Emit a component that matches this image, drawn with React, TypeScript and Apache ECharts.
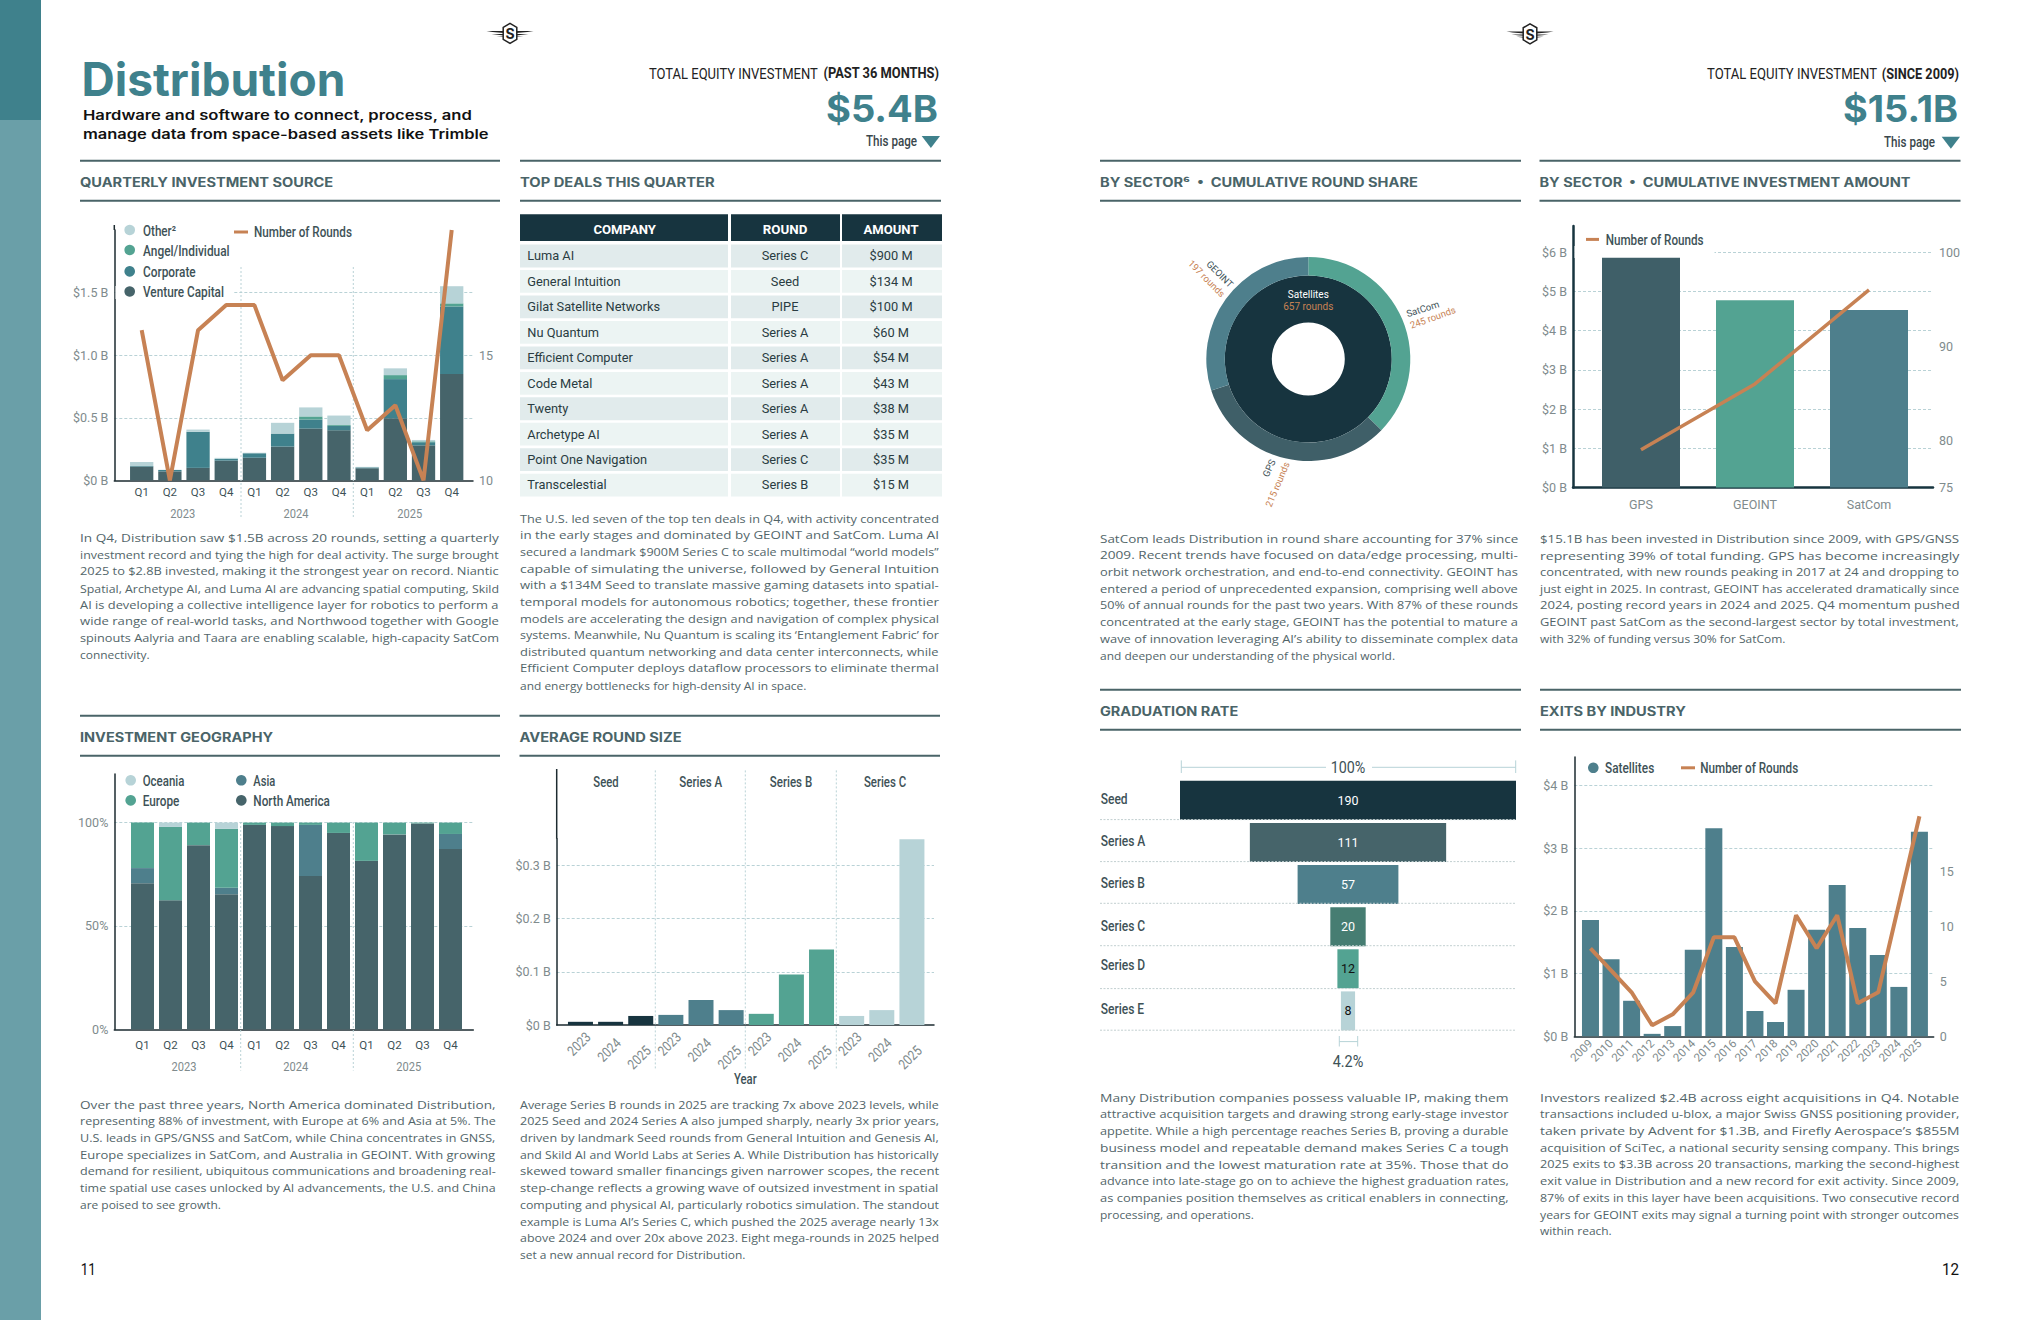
import React, { useEffect, useRef } from "react";
import * as echarts from "echarts";

// ---------- DATA ----------
const quarters = ["Q1", "Q2", "Q3", "Q4", "Q1", "Q2", "Q3", "Q4", "Q1", "Q2", "Q3", "Q4"];
const sourceVC = [0.11, 0.072, 0.1, 0.158, 0.18, 0.27, 0.414, 0.4, 0.097, 0.496, 0.28, 0.849];
const sourceCorp = [0.005, 0.011, 0.288, 0.014, 0.036, 0.104, 0.072, 0.035, 0.007, 0.313, 0.025, 0.54];
const sourceAngel = [0, 0, 0, 0, 0, 0, 0.025, 0.007, 0, 0.032, 0.007, 0.025];
const sourceOther = [0.032, 0.002, 0.018, 0.008, 0.004, 0.086, 0.072, 0.076, 0.004, 0.054, 0.011, 0.137];
const sourceRounds = [16, 10, 16, 17, 17, 14, 15, 15, 12, 13, 10, 20];

const geoNA = [70.7, 62.5, 89.1, 65.4, 98.9, 98.3, 74.2, 95, 81.5, 94.3, 99.6, 87.2];
const geoAsia = [7.3, 0, 0, 3.1, 0, 0, 24.7, 0, 0, 0, 0, 7.3];
const geoEurope = [22, 35.4, 10.9, 28.5, 1.1, 1.7, 1.1, 5, 18.5, 5.7, 0.4, 5.5];
const geoOceania = [0, 2.1, 0, 3, 0, 0, 0, 0, 0, 0, 0, 0];

const roundYears = ["2023", "2024", "2025", "2023", "2024", "2025", "2023", "2024", "2025", "2023", "2024", "2025"];
const roundSizes = [0.006, 0.006, 0.017, 0.019, 0.047, 0.028, 0.021, 0.095, 0.142, 0.017, 0.028, 0.349];
const roundStages = ["Seed", "Series A", "Series B", "Series C"];

const ringInnerName = "Satellites";
const ringInnerValue = 657;
const ringSectors = ["SatCom", "GPS", "GEOINT"];
const ringValues = [245, 215, 197];

const sectorNames = ["GPS", "GEOINT", "SatCom"];
const sectorAmounts = [5.86, 4.78, 4.53];
const sectorRounds = [79, 86, 96];

const gradStages = ["Seed", "Series A", "Series B", "Series C", "Series D", "Series E"];
const gradValues = [190, 111, 57, 20, 12, 8];

const exitYears = ["2009", "2010", "2011", "2012", "2013", "2014", "2015", "2016", "2017", "2018", "2019", "2020", "2021", "2022", "2023", "2024", "2025"];
const exitAmounts = [1.854, 1.229, 0.566, 0.039, 0.163, 1.379, 3.317, 1.424, 0.403, 0.228, 0.741, 1.698, 2.413, 1.724, 1.294, 0.787, 3.259];
const exitRounds = [8, 6, 4, 1, 2, 4, 9, 9, 5, 3, 11, 8, 11, 3, 4, 12, 20];

const dealCompanies = ["Luma AI", "General Intuition", "Gilat Satellite Networks", "Nu Quantum", "Efficient Computer", "Code Metal", "Twenty", "Archetype AI", "Point One Navigation", "Transcelestial"];
const dealRounds = ["Series C", "Seed", "PIPE", "Series A", "Series A", "Series A", "Series A", "Series A", "Series C", "Series B"];
const dealAmounts = ["$900 M", "$134 M", "$100 M", "$60 M", "$54 M", "$43 M", "$38 M", "$35 M", "$35 M", "$15 M"];

const textQuarterly = [
  "In Q4, Distribution saw $1.5B across 20 rounds, setting a quarterly",
  "investment record and tying the high for deal activity. The surge brought",
  "2025 to $2.8B invested, making it the strongest year on record. Niantic",
  "Spatial, Archetype AI, and Luma AI are advancing spatial computing, Skild",
  "AI is developing a collective intelligence layer for robotics to perform a",
  "wide range of real-world tasks, and Northwood together with Google",
  "spinouts Aalyria and Taara are enabling scalable, high-capacity SatCom",
  "connectivity.",
];
const textDeals = [
  "The U.S. led seven of the top ten deals in Q4, with activity concentrated",
  "in the early stages and dominated by GEOINT and SatCom. Luma AI",
  "secured a landmark $900M Series C to scale multimodal “world models”",
  "capable of simulating the universe, followed by General Intuition",
  "with a $134M Seed to translate massive gaming datasets into spatial-",
  "temporal models for autonomous robotics; together, these frontier",
  "models are accelerating the design and navigation of complex physical",
  "systems. Meanwhile, Nu Quantum is scaling its ‘Entanglement Fabric’ for",
  "distributed quantum networking and data center interconnects, while",
  "Efficient Computer deploys dataflow processors to eliminate thermal",
  "and energy bottlenecks for high-density AI in space.",
];
const textGeo = [
  "Over the past three years, North America dominated Distribution,",
  "representing 88% of investment, with Europe at 6% and Asia at 5%. The",
  "U.S. leads in GPS/GNSS and SatCom, while China concentrates in GNSS,",
  "Europe specializes in SatCom, and Australia in GEOINT. With growing",
  "demand for resilient, ubiquitous communications and broadening real-",
  "time spatial use cases unlocked by AI advancements, the U.S. and China",
  "are poised to see growth.",
];
const textRoundSize = [
  "Average Series B rounds in 2025 are tracking 7x above 2023 levels, while",
  "2025 Seed and 2024 Series A also jumped sharply, nearly 3x prior years,",
  "driven by landmark Seed rounds from General Intuition and Genesis AI,",
  "and Skild AI and World Labs at Series A. While Distribution has historically",
  "skewed toward smaller financings given narrower scopes, the recent",
  "step-change reflects a growing wave of outsized investment in spatial",
  "computing and physical AI, particularly robotics simulation. The standout",
  "example is Luma AI’s Series C, which pushed the 2025 average nearly 13x",
  "above 2024 and over 20x above 2023. Eight mega-rounds in 2025 helped",
  "set a new annual record for Distribution.",
];
const textShare = [
  "SatCom leads Distribution in round share accounting for 37% since",
  "2009. Recent trends have focused on data/edge processing, multi-",
  "orbit network orchestration, and end-to-end connectivity. GEOINT has",
  "entered a period of unprecedented expansion, comprising well above",
  "50% of annual rounds for the past two years. With 87% of these rounds",
  "concentrated at the early stage, GEOINT has the potential to mature a",
  "wave of innovation leveraging AI’s ability to disseminate complex data",
  "and deepen our understanding of the physical world.",
];
const textSector = [
  "$15.1B has been invested in Distribution since 2009, with GPS/GNSS",
  "representing 39% of total funding. GPS has become increasingly",
  "concentrated, with new rounds peaking in 2017 at 24 and dropping to",
  "just eight in 2025. In contrast, GEOINT has accelerated dramatically since",
  "2024, posting record years in 2024 and 2025. Q4 momentum pushed",
  "GEOINT past SatCom as the second-largest sector by total investment,",
  "with 32% of funding versus 30% for SatCom.",
];
const textGrad = [
  "Many Distribution companies possess valuable IP, making them",
  "attractive acquisition targets and drawing strong early-stage investor",
  "appetite. While a high percentage reaches Series B, proving a durable",
  "business model and repeatable demand makes Series C a tough",
  "transition and the lowest maturation rate at 35%. Those that do",
  "advance into late-stage go on to achieve the highest graduation rates,",
  "as companies position themselves as critical enablers in connecting,",
  "processing, and operations.",
];
const textExits = [
  "Investors realized $2.4B across eight acquisitions in Q4. Notable",
  "transactions included u-blox, a major Swiss GNSS positioning provider,",
  "taken private by Advent for $1.3B, and Firefly Aerospace’s $855M",
  "acquisition of SciTec, a national security sensing company. This brings",
  "2025 exits to $3.3B across 20 transactions, marking the second-highest",
  "exit value in Distribution and a new record for exit activity. Since 2009,",
  "87% of exits in this layer have been acquisitions. Two consecutive record",
  "years for GEOINT exits may signal a turning point with stronger outcomes",
  "within reach.",
];

// ---------- STYLE ----------
const NAVY = "#17343f";
const SLATE = "#46646a";
const TEAL = "#3f818c";
const STEEL = "#4e7f8c";
const GREEN = "#53a392";
const PALE = "#b7d3d7";
const ORANGE = "#c78254";
const GRID = "#b9d2d6";
const INK = "#3e5257";
const MUTED = "#808b8d";
const RULE = "#4a6468";
const AXIS = "#1d2b30";
const ROBOTO = "Roboto";
const BODY = "Open Sans";
const HEAD = "Inter";

const ctx = document.createElement("canvas").getContext("2d") as CanvasRenderingContext2D;
const measure = (t: string, size: number, weight: number | string, family: string) => {
  ctx.font = `${weight} ${size}px "${family}"`;
  return ctx.measureText(t).width;
};
const probe = "Series A 2023 Q1";
const hasNarrow = measure(probe, 40, 400, "Liberation Sans Narrow") !== measure(probe, 40, 400, "NoSuchFontAtAll");
const NARROW = hasNarrow ? "Liberation Sans Narrow" : ROBOTO;
const AX_SIZE = hasNarrow ? 13 : 11.5;
const VAL_SIZE = hasNarrow ? 14 : 12.5;

function buildOption() {
  const g: any[] = [];
  const grid: any[] = [];
  const xAxis: any[] = [];
  const yAxis: any[] = [];
  const series: any[] = [];

  const T = (text: string, x: number, y: number, o: any = {}) => {
    const size = o.size ?? 12;
    const weight = o.weight ?? 400;
    const family = o.family ?? ROBOTO;
    const scaleX = o.width ? o.width / measure(text, size, weight, family) : 1;
    const align = o.align ?? "left";
    g.push({
      type: "text", x, y, scaleX, rotation: o.rotation ?? 0, z: o.z ?? 10, silent: true,
      style: {
        text, fill: o.color ?? INK, fontSize: size, fontWeight: weight, fontFamily: family,
        align, textAlign: align, verticalAlign: "middle", textVerticalAlign: "middle",
      },
    });
  };
  const L = (x1: number, y1: number, x2: number, y2: number, o: any = {}) =>
    g.push({
      type: "line", z: o.z ?? 1, silent: true, shape: { x1, y1, x2, y2 },
      style: { stroke: o.color ?? GRID, lineWidth: o.width ?? 1, lineDash: o.dash ?? null },
    });
  const R = (x: number, y: number, width: number, height: number, fill: string, z = 1) =>
    g.push({ type: "rect", z, silent: true, shape: { x, y, width, height }, style: { fill } });
  const dot = (cx: number, cy: number, fill: string) =>
    g.push({ type: "circle", z: 10, silent: true, shape: { cx, cy, r: 5.3 }, style: { fill } });
  const dotted = (x: number, y1: number, y2: number) => L(x, y1, x, y2, { dash: [2, 2] });

  const heading = (text: string, x1: number, x2: number, yTop: number, width: number) => {
    L(x1, yTop, x2, yTop, { color: RULE, width: 2 });
    L(x1, yTop + 40, x2, yTop + 40, { color: RULE, width: 2 });
    T(text, x1, yTop + 21.2, { size: 12.5, weight: 700, family: HEAD, color: RULE, width });
  };
  const para = (lines: string[], x: number, right: number, y0: number) =>
    lines.forEach((s, i) =>
      T(s, x, y0 + i * 16.62, {
        size: 11.5, family: BODY, color: "#526569",
        width: i < lines.length - 1 ? right - x : measure(s, 11.5, 400, BODY) * 1.04,
      }),
    );
  const legendText = (text: string, x: number, y: number, width: number) =>
    T(text, x, y + 0.8, { size: 14, weight: 500, width });
  const legendLine = (x1: number, x2: number, y: number) =>
    L(x1, y, x2, y, { color: ORANGE, width: 3, z: 10 });

  const labelStyle = { color: MUTED, fontSize: VAL_SIZE, fontFamily: NARROW };

  const frame = (o: any) => {
    const height = o.bottom - o.top;
    const line = { color: o.axisColor ?? AXIS, width: o.axisWidth ?? 1.5 };
    const bg = grid.push({ left: o.left, top: o.top, width: o.right - o.left, height }) - 1;
    xAxis.push({
      gridIndex: bg, type: "value", min: 0, max: 1,
      axisLine: { show: true, onZero: false, lineStyle: line },
      axisTick: { show: false }, axisLabel: { show: false }, splitLine: { show: false },
    });
    yAxis.push({
      gridIndex: bg, type: "value", min: 0, max: o.yMax, interval: o.yInterval,
      axisLine: { show: true, onZero: false, lineStyle: line }, axisTick: { show: false },
      axisLabel: { ...labelStyle, margin: 6, formatter: o.yFormat, showMaxLabel: false },
      splitLine: {
        show: true, showMaxLine: false, showMinLine: false,
        lineStyle: { color: GRID, type: [3, 2], width: 1 },
      },
    });
    if (o.rMax != null) {
      yAxis.push({
        gridIndex: bg, type: "value", position: "right", min: o.rMin, max: o.rMax, interval: o.rInterval,
        axisLine: { show: false }, axisTick: { show: false }, splitLine: { show: false },
        axisLabel: { ...labelStyle, margin: 6, formatter: o.rFormat },
      });
    }
    const fg = grid.push({ left: o.catLeft, top: o.top, width: o.catRight - o.catLeft, height }) - 1;
    const xi = xAxis.push({
      gridIndex: fg, type: "category", data: o.cats,
      axisLine: { show: false }, axisTick: { show: false }, splitLine: { show: false },
      axisLabel: { interval: 0, fontFamily: NARROW, fontSize: AX_SIZE, color: o.catColor ?? INK, margin: 6, ...(o.catLabel ?? {}) },
    }) - 1;
    const yi = yAxis.push({ gridIndex: fg, type: "value", min: 0, max: o.yMax, show: false }) - 1;
    const ri = o.rMax != null
      ? yAxis.push({ gridIndex: fg, type: "value", min: o.rMin, max: o.rMax, show: false }) - 1
      : -1;
    return { xi, yi, ri };
  };
  const bar = (a: any, name: string, data: any[], color: string, barWidth: number, stack?: string) =>
    series.push({
      type: "bar", name, data, xAxisIndex: a.xi, yAxisIndex: a.yi, stack, barWidth, silent: true, z: 2,
      itemStyle: { color },
    });
  const trend = (a: any, data: number[], width = 4) =>
    series.push({
      type: "line", name: "Number of Rounds", data, xAxisIndex: a.xi, yAxisIndex: a.ri, symbol: "none",
      silent: true, clip: false, z: 4, lineStyle: { color: ORANGE, width },
    });
  const yearLabels = (pairs: number[][], y: number) =>
    pairs.forEach(([year, x]) =>
      T(String(year), x, y, { size: 13.5, color: MUTED, align: "center", width: 25 }));

  // ---------- PAGE FURNITURE ----------
  R(0, 0, 41, 1320, "#6a9fa8", 0);
  R(0, 0, 41, 120, TEAL, 0);

  const logo = (cx: number, cy: number) => {
    const hex = [[0, -10], [6.8, -6], [6.8, 6], [0, 10], [-6.8, 6], [-6.8, -6]].map(([a, b]) => [cx + a, cy + b]);
    [-1, 1].forEach((s) => {
      const wing = (tip: number, y1: number, y2: number, y3: number) =>
        g.push({
          type: "polygon", z: 10, silent: true,
          shape: { points: [[cx + s * tip, y1], [cx + s * 6, y1], [cx + s * 6, y2], [cx + s * (tip - 6), y3]] },
          style: { fill: "#222" },
        });
      wing(23.5, cy - 2.4, cy - 0.4, cy - 1.4);
      wing(18.5, cy + 0.6, cy + 2, cy + 1.4);
      wing(13.5, cy + 3, cy + 4.2, cy + 3.6);
    });
    g.push({ type: "polygon", z: 11, silent: true, shape: { points: hex }, style: { fill: "#fff", stroke: "#222", lineWidth: 1.5 } });
    T("S", cx, cy + 0.5, { size: 14, weight: 700, family: HEAD, color: "#222", align: "center", z: 12 });
  };
  logo(510, 33.4);
  logo(1530, 33.8);

  T("Distribution", 81.5, 79, { size: 46, weight: 700, family: HEAD, color: TEAL, width: 264 });
  T("Hardware and software to connect, process, and", 83, 115.8, { size: 13, weight: 600, family: HEAD, color: "#111", width: 389.7 });
  T("manage data from space-based assets like Trimble", 83, 134.8, { size: 13, weight: 600, family: HEAD, color: "#111", width: 406 });

  const topRight = (plain: string, bold: string, amount: string, xs: number[], y: number, yLabel: number) => {
    T(plain, xs[0], y, { size: 14, color: "#222", width: xs[1] - xs[0] });
    T(bold, xs[3], y, { size: 14, weight: 700, color: "#222", align: "right", width: xs[3] - xs[2] });
    T(amount, xs[3] - 1, y + 35, { size: 37, weight: 700, family: HEAD, color: TEAL, align: "right", width: xs[3] - xs[4] - 1 });
    T("This page", xs[5], yLabel, { size: 14, weight: 500, align: "right", color: "#3a474b", width: xs[5] - xs[6] });
    g.push({
      type: "polygon", z: 10, silent: true,
      shape: { points: [[xs[7], yLabel - 5], [xs[7] + 18.3, yLabel - 5], [xs[7] + 9.2, yLabel + 7]] },
      style: { fill: TEAL },
    });
  };
  topRight("TOTAL EQUITY INVESTMENT", "(PAST 36 MONTHS)", "$5.4B", [649, 818, 823, 939, 826, 917, 866, 921.7], 73.8, 141);
  topRight("TOTAL EQUITY INVESTMENT", "(SINCE 2009)", "$15.1B", [1707, 1877, 1881.7, 1959, 1843, 1935, 1884, 1941.7], 73.8, 141.8);

  T("11", 80.7, 1269, { size: 17, color: "#111", width: 15 });
  T("12", 1959, 1269, { size: 17, color: "#111", align: "right", width: 17 });

  // ---------- HEADINGS + PARAGRAPHS ----------
  heading("QUARTERLY INVESTMENT SOURCE", 80, 500, 160.8, 253.3);
  heading("TOP DEALS THIS QUARTER", 520, 941, 160.8, 194.7);
  heading("BY SECTOR⁶  •  CUMULATIVE ROUND SHARE", 1100, 1521, 160.8, 318.3);
  heading("BY SECTOR  •  CUMULATIVE INVESTMENT AMOUNT", 1539.5, 1960.5, 160.8, 371);
  heading("INVESTMENT GEOGRAPHY", 80, 500, 715.8, 193.3);
  heading("AVERAGE ROUND SIZE", 519.5, 940, 715.8, 162.3);
  heading("GRADUATION RATE", 1100, 1521, 689.8, 138.3);
  heading("EXITS BY INDUSTRY", 1540, 1961, 689.8, 146);

  para(textQuarterly, 80, 499.3, 538);
  para(textDeals, 520, 939.3, 518.6);
  para(textGeo, 80, 496, 1104.5);
  para(textRoundSize, 520, 939.3, 1104.5);
  para(textShare, 1100, 1518.3, 538.6);
  para(textSector, 1540, 1959.7, 538.6);
  para(textGrad, 1100, 1509, 1097.6);
  para(textExits, 1540, 1959.7, 1097.6);

  // ---------- QUARTERLY INVESTMENT SOURCE ----------
  const a1 = frame({
    left: 114.3, right: 473, top: 230, bottom: 480.4, yMax: 2, yInterval: 0.5,
    yFormat: (v: number) => (v === 0 ? "$0 B" : `$${v.toFixed(1)} B`),
    rMin: 10, rMax: 20, rInterval: 5, rFormat: (v: number) => (v < 20 ? String(v) : ""),
    cats: quarters, catLeft: 127.6, catRight: 465.8,
  });
  L(114.3, 225, 114.3, 230, { color: AXIS, width: 1.5, z: 3 });
  bar(a1, "Venture Capital", sourceVC, SLATE, 23.3, "s");
  bar(a1, "Corporate", sourceCorp, TEAL, 23.3, "s");
  bar(a1, "Angel/Individual", sourceAngel, GREEN, 23.3, "s");
  bar(a1, "Other", sourceOther, PALE, 23.3, "s");
  trend(a1, sourceRounds);
  R(115.5, 286, 118, 13, "#fff");
  dotted(241, 267, 518);
  dotted(353.3, 267, 518);
  yearLabels([[2023, 182.7], [2024, 296], [2025, 409.7]], 513.9);
  dot(129.7, 230, PALE); legendText("Other²", 143, 230, 33);
  dot(129.7, 250, GREEN); legendText("Angel/Individual", 143, 250, 86.7);
  dot(129.7, 271.4, TEAL); legendText("Corporate", 143, 271.4, 52.7);
  dot(129.7, 291.5, SLATE); legendText("Venture Capital", 143, 291.5, 81);
  legendLine(234, 248, 232); legendText("Number of Rounds", 254, 231.5, 98);

  // ---------- TOP DEALS TABLE ----------
  const headerCols = [[520, 208, 624.7, 62.7, "COMPANY"], [731, 109, 785, 44.7, "ROUND"], [842, 100, 891, 55, "AMOUNT"]] as any[];
  headerCols.forEach(([x, w, cx, tw, name]) => {
    R(x, 214.2, w, 26.8, NAVY);
    T(name, cx, 229.6, { size: 12.5, weight: 700, color: "#fff", align: "center", width: tw });
  });
  dealCompanies.forEach((name, i) => {
    const y = 244.6 + i * 25.46;
    const fill = i % 2 ? "#ecf4f3" : "#e1ebec";
    R(520, y, 208, 22.8, fill); R(731, y, 109, 22.8, fill); R(842, y, 100, 22.8, fill);
    T(name, 527.3, y + 11.2, { size: 12.8, color: "#2a3c42" });
    T(dealRounds[i], 785, y + 11.2, { size: 12.8, color: "#2a3c42", align: "center" });
    T(dealAmounts[i], 891, y + 11.2, { size: 12.8, color: "#2a3c42", align: "center" });
  });

  // ---------- INVESTMENT GEOGRAPHY ----------
  const a3 = frame({
    left: 114.3, right: 473.3, top: 774, bottom: 1029.4, yMax: 123.5, yInterval: 50,
    yFormat: (v: number) => `${v}%`, cats: quarters, catLeft: 128.5, catRight: 464.5,
    catLabel: { margin: 10 },
  });
  bar(a3, "North America", geoNA, SLATE, 23, "g");
  bar(a3, "Asia", geoAsia, STEEL, 23, "g");
  bar(a3, "Europe", geoEurope, GREEN, 23, "g");
  bar(a3, "Oceania", geoOceania, PALE, 23, "g");
  dotted(240.7, 822, 1070.5);
  dotted(353.3, 822, 1070.5);
  yearLabels([[2023, 184], [2024, 295.7], [2025, 408.7]], 1066.6);
  dot(130.7, 780.3, PALE); legendText("Oceania", 142.7, 780.3, 41.7);
  dot(130.7, 800.4, GREEN); legendText("Europe", 142.7, 800.4, 36.7);
  dot(241.3, 780.3, STEEL); legendText("Asia", 253.3, 780.3, 22);
  dot(241.3, 800.4, SLATE); legendText("North America", 253.3, 800.4, 76.7);

  // ---------- AVERAGE ROUND SIZE ----------
  const stageColors = [NAVY, STEEL, GREEN, PALE];
  const a4 = frame({
    left: 556.7, right: 934, top: 838.8, bottom: 1025, yMax: 0.35, yInterval: 0.1,
    yFormat: (v: number) => (v === 0 ? "$0 B" : `$${v.toFixed(1)} B`),
    cats: roundYears, catLeft: 565.4, catRight: 927, catColor: MUTED,
    catLabel: { show: false },
  });
  L(556.7, 769, 556.7, 838.8, { color: AXIS, width: 1.5, z: 3 });
  bar(a4, "Average round size",
    roundSizes.map((value, i) => ({ value, itemStyle: { color: stageColors[Math.floor(i / 3)] } })), NAVY, 25);
  [655.3, 745.3, 836.3].forEach((x) => dotted(x, 770.4, 1069.7));
  const stageWidths = [25.3, 42.7, 42.3, 42.3];
  [606, 700.7, 791, 885].forEach((x, i) =>
    T(roundStages[i], x, 782, { size: 14, weight: 500, align: "center", width: stageWidths[i] }));
  const yearLabelOffsets = [1044, 1050, 1057.5];
  roundYears.forEach((year, i) =>
    T(year, 579 + i * 30.1, yearLabelOffsets[i % 3], { size: 14, color: MUTED, align: "center", width: 26.5, rotation: Math.PI / 4 }));
  T("Year", 745.3, 1079.4, { size: 14, weight: 500, align: "center", width: 22.7 });

  // ---------- CUMULATIVE ROUND SHARE ----------
  const ringCenter = [1308.3, 359];
  const ringColors = [GREEN, "#3f5f68", STEEL];
  series.push({
    type: "pie", name: ringInnerName, center: ringCenter, radius: [36.5, 83.5], silent: true, z: 2,
    startAngle: 90, label: { show: false }, labelLine: { show: false },
    data: [{ name: ringInnerName, value: ringInnerValue, itemStyle: { color: NAVY } }],
  });
  series.push({
    type: "pie", name: "Sector", center: ringCenter, radius: [83.5, 102], silent: true, z: 2,
    startAngle: 90, clockwise: true, label: { show: false }, labelLine: { show: false },
    data: ringSectors.map((name, i) => ({ name, value: ringValues[i], itemStyle: { color: ringColors[i] } })),
  });
  T(ringInnerName, 1308.3, 294.4, { size: 10, color: "#fff", align: "center" });
  T(`${ringInnerValue} rounds`, 1308.3, 306.6, { size: 10, color: ORANGE, align: "center" });
  const deg = Math.PI / 180;
  const ringLabels: any[] = [
    [0, 1422.7, 308.8, 18, 1432.7, 317.4, 20],
    [1, 1269, 468, 65, 1277.3, 484.4, 67],
    [2, 1220, 274, -45, 1206.7, 278.4, -45],
  ];
  ringLabels.forEach(([i, x1, y1, r1, x2, y2, r2]) => {
    T(ringSectors[i], x1, y1, { size: 9.5, align: "center", rotation: r1 * deg });
    T(`${ringValues[i]} rounds`, x2, y2, { size: 9.5, color: ORANGE, align: "center", rotation: r2 * deg });
  });

  // ---------- CUMULATIVE INVESTMENT AMOUNT ----------
  const a6 = frame({
    left: 1573, right: 1933, top: 226, bottom: 487.4, yMax: 6.673, yInterval: 1,
    yFormat: (v: number) => `$${v} B`,
    rMin: 75, rMax: 102.8, rInterval: 5,
    rFormat: (v: number) => ([75, 80, 90, 100].includes(v) ? String(v) : ""),
    cats: sectorNames, catLeft: 1584, catRight: 1926, catColor: MUTED,
    axisColor: NAVY, axisWidth: 2.5, catLabel: { margin: 11, fontSize: AX_SIZE + 1 },
  });
  series.push({
    type: "bar", name: "Amount", xAxisIndex: a6.xi, yAxisIndex: a6.yi, barWidth: 78, silent: true, z: 2,
    data: sectorAmounts.map((value, i) => ({ value, itemStyle: { color: ["#3f5f68", GREEN, STEEL][i] } })),
  });
  trend(a6, sectorRounds, 3.5);
  R(1574.5, 246, 140, 12, "#fff");
  legendLine(1586, 1599, 239.4); legendText("Number of Rounds", 1605.7, 239.4, 98);

  // ---------- GRADUATION RATE ----------
  const gradColors = [NAVY, SLATE, STEEL, "#467d72", GREEN, PALE];
  const gradInk = ["#fff", "#fff", "#fff", "#fff", "#111", "#111"];
  const gg = grid.push({ left: 1180, top: 779.25, width: 336, height: 252.7 }) - 1;
  const gx = xAxis.push({ gridIndex: gg, type: "value", min: 0, max: 190, show: false }) - 1;
  const gy = yAxis.push({
    gridIndex: gg, type: "category", inverse: true, data: gradStages,
    axisLine: { show: false }, axisTick: { show: false }, splitLine: { show: false }, axisLabel: { show: false },
  }) - 1;
  series.push({
    type: "bar", name: "offset", xAxisIndex: gx, yAxisIndex: gy, stack: "f", barWidth: 39, silent: true,
    itemStyle: { color: "transparent" }, data: gradValues.map((v) => (190 - v) / 2),
  });
  series.push({
    type: "bar", name: "Graduation", xAxisIndex: gx, yAxisIndex: gy, stack: "f", barWidth: 39, silent: true, z: 2,
    data: gradValues.map((value, i) => ({
      value, itemStyle: { color: gradColors[i] },
      label: { show: true, position: "inside", color: gradInk[i], fontSize: VAL_SIZE, fontFamily: NARROW, formatter: String(value) },
    })),
  });
  const gradLabelY = [799.4, 841.4, 883.4, 926.3, 965.5, 1009.6];
  gradStages.forEach((name, i) => {
    const natural = measure(name, 14, 500, ROBOTO);
    T(name, 1100.7, gradLabelY[i], { size: 14, weight: 500, width: natural * 0.86 });
  });
  [819.6, 861.6, 903.3, 945.7, 988.6, 1030.2].forEach((y) =>
    L(1100, y, 1516, y, { color: "#c2cfd0", dash: [2, 1.5], z: 5 }));
  L(1181.3, 767.3, 1326, 767.3, { color: PALE }); L(1372, 767.3, 1515.7, 767.3, { color: PALE });
  L(1181.3, 760.4, 1181.3, 773, { color: PALE }); L(1515.7, 760.4, 1515.7, 773, { color: PALE });
  T("100%", 1348, 768, { size: 16, align: "center", width: 34.7 });
  L(1339.3, 1041.6, 1357.7, 1041.6, { color: PALE });
  L(1339.3, 1036, 1339.3, 1046.5, { color: PALE }); L(1357.7, 1036, 1357.7, 1046.5, { color: PALE });
  T("4.2%", 1348, 1062.2, { size: 16, align: "center", width: 30.7 });

  // ---------- EXITS BY INDUSTRY ----------
  const a8 = frame({
    left: 1574.3, right: 1933.7, top: 757, bottom: 1036.3, yMax: 4.451, yInterval: 1,
    yFormat: (v: number) => `$${v} B`,
    rMin: 0, rMax: 25.39, rInterval: 5, rFormat: (v: number) => (v <= 15 ? String(v) : ""),
    cats: exitYears, catLeft: 1580.2, catRight: 1929.7, catColor: MUTED,
    catLabel: { rotate: 45, margin: 5 },
  });
  bar(a8, "Satellites", exitAmounts, STEEL, 17);
  trend(a8, exitRounds);
  dot(1593.3, 767.8, STEEL); legendText("Satellites", 1605, 767.8, 49.3);
  legendLine(1681, 1695, 767.8); legendText("Number of Rounds", 1700.3, 767.8, 98);

  return {
    animation: false,
    backgroundColor: "#ffffff",
    tooltip: { show: false },
    grid, xAxis, yAxis, series,
    graphic: { elements: g },
  };
}

export default function App() {
  const ref = useRef<HTMLDivElement>(null);
  useEffect(() => {
    document.body.style.margin = "0";
    const chart = echarts.init(ref.current as HTMLDivElement, undefined, { renderer: "svg" });
    chart.setOption(buildOption() as any);
    return () => chart.dispose();
  }, []);
  return <div ref={ref} style={{ width: 2040, height: 1320 }} />;
}
